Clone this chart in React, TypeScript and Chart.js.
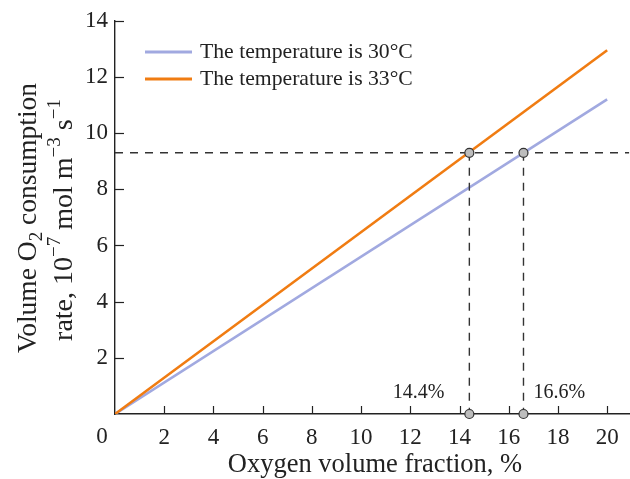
import React, { useEffect, useRef } from "react";
import { Chart, registerables } from "chart.js";

Chart.register(...registerables);

// ---- data ----
const oxygenFraction = [0, 20]; // %
const rate30C = [0, 11.2]; // 10^-7 mol m^-3 s^-1
const rate33C = [0, 12.95];
const seriesLabels = ["The temperature is 30°C", "The temperature is 33°C"];
const targetRate = 9.3;
const crossFractions = [14.4, 16.6];
const crossLabels = ["14.4%", "16.6%"];
const xTickValues = [2, 4, 6, 8, 10, 12, 14, 16, 18, 20];
const yTickValues = [2, 4, 6, 8, 10, 12, 14];
const xMax = 20.9;
const yMax = 14;

const FONT = "'Liberation Serif', 'Times New Roman', serif";
const TEXT = "#222";
const BLUE = "#a1a9e0";
const ORANGE = "#f07c12";

type Seg = { t: string; mode?: "sup" | "sub" };

function drawRich(ctx: CanvasRenderingContext2D, segs: Seg[], cx: number, cy: number, size: number) {
  const small = Math.round(size * 0.68);
  const fontOf = (s: Seg) => `${s.mode ? small : size}px ${FONT}`;
  let total = 0;
  const widths = segs.map((s) => {
    ctx.font = fontOf(s);
    const w = ctx.measureText(s.t).width;
    total += w;
    return w;
  });
  ctx.save();
  ctx.translate(cx, cy);
  ctx.rotate(-Math.PI / 2);
  ctx.textBaseline = "alphabetic";
  ctx.textAlign = "left";
  ctx.fillStyle = TEXT;
  let x = -total / 2;
  const base = size * 0.33;
  segs.forEach((s, i) => {
    ctx.font = fontOf(s);
    let dy = 0;
    if (s.mode === "sup") dy = -size * 0.42;
    if (s.mode === "sub") dy = size * 0.22;
    ctx.fillText(s.t, x, base + dy);
    x += widths[i];
  });
  ctx.restore();
}

const decorPlugin = {
  id: "decor",
  afterDraw(chart: any) {
    const ctx: CanvasRenderingContext2D = chart.ctx;
    const xs = chart.scales.x;
    const ys = chart.scales.y;
    const area = chart.chartArea;
    ctx.save();
    // inward tick marks
    ctx.strokeStyle = TEXT;
    ctx.lineWidth = 1.2;
    xTickValues.forEach((v) => {
      const px = Math.round(xs.getPixelForValue(v)) + 0.5;
      ctx.beginPath();
      ctx.moveTo(px, area.bottom);
      ctx.lineTo(px, area.bottom - 8);
      ctx.stroke();
    });
    yTickValues.forEach((v) => {
      const py = Math.round(ys.getPixelForValue(v)) + 0.5;
      ctx.beginPath();
      ctx.moveTo(area.left, py);
      ctx.lineTo(area.left + 9, py);
      ctx.stroke();
    });
    // origin label
    ctx.fillStyle = TEXT;
    ctx.font = `23px ${FONT}`;
    ctx.textAlign = "center";
    ctx.textBaseline = "middle";
    ctx.fillText("0", area.left - 13, 437);
    // x title
    ctx.font = `26.5px ${FONT}`;
    ctx.fillText("Oxygen volume fraction, %", 375, 465);
    // crossing labels
    ctx.font = `20px ${FONT}`;
    ctx.textAlign = "right";
    ctx.fillText(crossLabels[0], xs.getPixelForValue(crossFractions[0]) - 25, 393);
    ctx.textAlign = "left";
    ctx.fillText(crossLabels[1], xs.getPixelForValue(crossFractions[1]) + 10, 393);
    // legend
    const rows = [
      { label: seriesLabels[0], color: BLUE, y: 52 },
      { label: seriesLabels[1], color: ORANGE, y: 79 },
    ];
    ctx.font = `21.7px ${FONT}`;
    ctx.textAlign = "left";
    rows.forEach((r) => {
      ctx.strokeStyle = r.color;
      ctx.lineWidth = 3;
      ctx.beginPath();
      ctx.moveTo(145, r.y);
      ctx.lineTo(192, r.y);
      ctx.stroke();
      ctx.fillStyle = TEXT;
      ctx.fillText(r.label, 200, r.y);
    });
    // y title
    drawRich(ctx, [{ t: "Volume O" }, { t: "2", mode: "sub" }, { t: " consumption" }], 27, 218, 27.5);
    drawRich(
      ctx,
      [
        { t: "rate, 10" },
        { t: "−7", mode: "sup" },
        { t: " mol m" },
        { t: "−3", mode: "sup" },
        { t: " s" },
        { t: "−1", mode: "sup" },
      ],
      63,
      220,
      28
    );
    ctx.restore();
  },
};

export default function App() {
  const ref = useRef<HTMLCanvasElement | null>(null);
  useEffect(() => {
    if (!ref.current) return;
    const toPts = (ys: number[]) => oxygenFraction.map((x, i) => ({ x, y: ys[i] }));
    const dash = [8, 7];
    const chart = new Chart(ref.current, {
      type: "scatter",
      data: {
        datasets: [
          {
            label: "crossings",
            data: [
              ...crossFractions.map((x) => ({ x, y: targetRate })),
              ...crossFractions.map((x) => ({ x, y: 0 })),
            ],
            showLine: false,
            pointRadius: 4.5,
            pointBackgroundColor: "#bdbdbd",
            pointBorderColor: "#333",
            pointBorderWidth: 1.2,
            order: 0,
            clip: false as any,
          },
          {
            label: "h-dash",
            data: [
              { x: 0, y: targetRate },
              { x: xMax, y: targetRate },
            ],
            showLine: true,
            pointRadius: 0,
            borderColor: "#333",
            borderWidth: 1.4,
            borderDash: dash,
            order: 1,
          },
          ...crossFractions.map((x, i) => ({
            label: "v-dash" + i,
            data: [
              { x, y: targetRate },
              { x, y: 0 },
            ],
            showLine: true,
            pointRadius: 0,
            borderColor: "#333",
            borderWidth: 1.4,
            borderDash: dash,
            order: 1,
          })),
          {
            label: seriesLabels[1],
            data: toPts(rate33C),
            showLine: true,
            pointRadius: 0,
            borderColor: ORANGE,
            borderWidth: 2.6,
            order: 2,
          },
          {
            label: seriesLabels[0],
            data: toPts(rate30C),
            showLine: true,
            pointRadius: 0,
            borderColor: BLUE,
            borderWidth: 2.6,
            order: 3,
          },
        ],
      },
      options: {
        animation: false,
        responsive: false,
        maintainAspectRatio: false,
        layout: { padding: { left: 0, right: 0, top: 20, bottom: 0 } },
        plugins: { legend: { display: false }, tooltip: { enabled: false } },
        scales: {
          x: {
            type: "linear",
            min: 0,
            max: xMax,
            afterBuildTicks: (s: any) => {
              s.ticks = xTickValues.map((v) => ({ value: v }));
            },
            afterFit: (s: any) => {
              s.height = 65;
              s.paddingLeft = 0;
              s.paddingRight = 0;
            },
            grid: { display: false, drawTicks: false },
            border: { display: true, color: TEXT, width: 1.4 },
            ticks: {
              color: TEXT,
              font: { family: FONT, size: 23 },
              padding: 10,
              maxRotation: 0,
              autoSkip: false,
            },
          },
          y: {
            type: "linear",
            min: 0,
            max: yMax,
            afterBuildTicks: (s: any) => {
              s.ticks = yTickValues.map((v) => ({ value: v }));
            },
            afterFit: (s: any) => {
              s.width = 115;
            },
            grid: { display: false, drawTicks: false },
            border: { display: true, color: TEXT, width: 1.4 },
            ticks: {
              color: TEXT,
              font: { family: FONT, size: 23 },
              padding: 7,
              autoSkip: false,
            },
          },
        },
      },
      plugins: [decorPlugin],
    });
    return () => chart.destroy();
  }, []);
  return (
    <div
      style={{
        position: "fixed",
        left: 0,
        top: 0,
        width: 630,
        height: 479,
        overflow: "hidden",
        background: "#fff",
      }}
    >
      <canvas ref={ref} width={635} height={479} style={{ width: 635, height: 479, display: "block" }} />
    </div>
  );
}
